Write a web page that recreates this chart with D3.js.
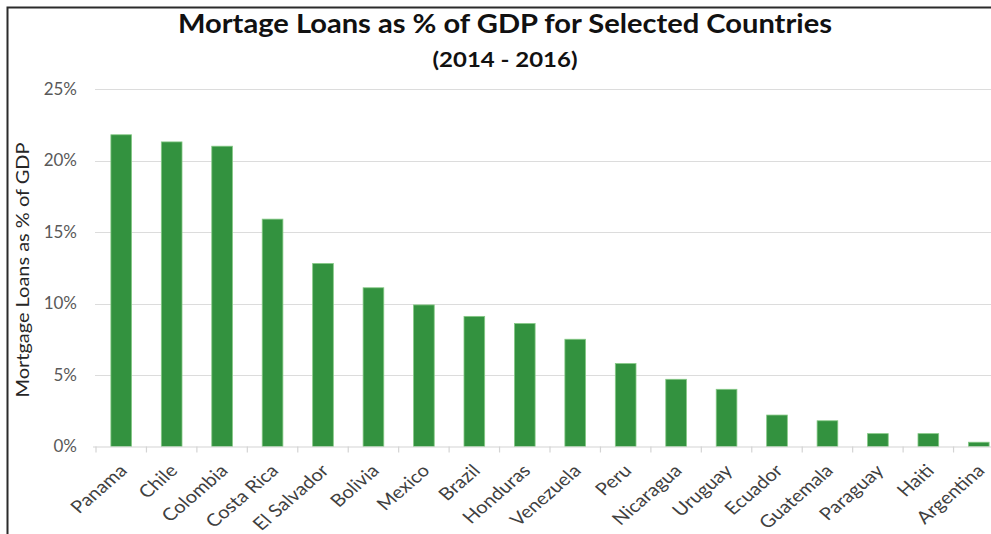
<!DOCTYPE html>
<html>
<head>
<meta charset="utf-8">
<script src="https://cdn.jsdelivr.net/npm/d3@7"></script>
<style>
  html, body { margin: 0; padding: 0; background: #fff; }
  svg { display: block; }
</style>
</head>
<body>
<svg id="chart" width="991" height="534"></svg>
<script>
// Mortgage loans as a share of GDP, 2014 - 2016
const countries = ["Panama", "Chile", "Colombia", "Costa Rica", "El Salvador", "Bolivia",
  "Mexico", "Brazil", "Honduras", "Venezuela", "Peru", "Nicaragua", "Uruguay",
  "Ecuador", "Guatemala", "Paraguay", "Haiti", "Argentina"];
const loansPctGdp = [21.8, 21.3, 21.0, 15.9, 12.8, 11.1, 9.9, 9.1, 8.6, 7.5, 5.8, 4.7, 4.0,
  2.2, 1.8, 0.9, 0.9, 0.3];
const yTicks = [0, 5, 10, 15, 20, 25];

const svg = d3.select("#chart");
const W = 991, H = 534;
const plot = { left: 96, right: 1004, top: 89, bottom: 446.5 };

const x = d3.scaleBand()
  .domain(countries)
  .range([plot.left, plot.right])
  .paddingInner(0.59)
  .paddingOuter(0.295);

const y = d3.scaleLinear()
  .domain([0, 25])
  .range([plot.bottom, plot.top]);

// frame around the chart
svg.append("path")
  .attr("d", `M7.5,${H} L7.5,7.5 L${W},7.5`)
  .attr("fill", "none")
  .attr("stroke", "#2b2b2b")
  .attr("stroke-width", 2);

// horizontal gridlines
svg.append("g")
  .selectAll("line")
  .data(yTicks.filter(d => d > 0))
  .join("line")
  .attr("x1", plot.left - 1)
  .attr("x2", W)
  .attr("y1", d => Math.round(y(d)) + 0.5)
  .attr("y2", d => Math.round(y(d)) + 0.5)
  .attr("stroke", "#dcdcdc")
  .attr("stroke-width", 1.2);

// y axis labels
const yAxis = d3.axisLeft(y)
  .tickValues(yTicks)
  .tickFormat(d => d + "%")
  .tickSize(0)
  .tickPadding(19);
const gy = svg.append("g")
  .attr("transform", `translate(${plot.left},0)`)
  .call(yAxis);
gy.select(".domain").remove();
gy.selectAll("text")
  .attr("fill", "#595959")
  .style("font-family", "Lato, 'Open Sans', sans-serif")
  .style("font-size", "17px");

// bars
svg.append("g")
  .selectAll("rect")
  .data(countries.map((c, i) => ({ c, v: loansPctGdp[i] })))
  .join("rect")
  .attr("x", d => x(d.c))
  .attr("width", x.bandwidth())
  .attr("y", d => y(d.v))
  .attr("height", d => y(0) - y(d.v))
  .attr("fill", "#33923f")
  .attr("stroke", "#86c986")
  .attr("stroke-width", 0.8);

// category axis with ticks at band boundaries
const gx = svg.append("g");
gx.append("line")
  .attr("x1", plot.left - 3)
  .attr("x2", W)
  .attr("y1", plot.bottom + 0.5)
  .attr("y2", plot.bottom + 0.5)
  .attr("stroke", "#d4d4d4")
  .attr("stroke-width", 1.2);
gx.selectAll("line.tick")
  .data(countries)
  .join("line")
  .attr("class", "tick")
  .attr("x1", d => x(d) - x.step() * 0.295)
  .attr("x2", d => x(d) - x.step() * 0.295)
  .attr("y1", plot.bottom)
  .attr("y2", plot.bottom + 6)
  .attr("stroke", "#d4d4d4")
  .attr("stroke-width", 1.2);

gx.selectAll("text")
  .data(countries)
  .join("text")
  .attr("transform", d => `translate(${x(d) + x.bandwidth() / 2 + 2},${plot.bottom + 21}) scale(1.15,1) rotate(-45)`)
  .attr("text-anchor", "end")
  .attr("dy", "0.35em")
  .attr("fill", "#404040")
  .style("font-family", "Lato, 'Open Sans', sans-serif")
  .style("font-size", "17.5px")
  .text(d => d);

// y axis title
svg.append("text")
  .attr("transform", `translate(29,270) rotate(-90)`)
  .attr("text-anchor", "middle")
  .attr("fill", "#262626")
  .attr("textLength", 255)
  .attr("lengthAdjust", "spacingAndGlyphs")
  .style("font-family", "Lato, 'Open Sans', sans-serif")
  .style("font-size", "18px")
  .text("Mortgage Loans as % of GDP");

// titles
svg.append("text")
  .attr("x", 505)
  .attr("y", 33)
  .attr("text-anchor", "middle")
  .attr("fill", "#111")
  .attr("textLength", 654)
  .attr("lengthAdjust", "spacingAndGlyphs")
  .style("font-family", "Lato, 'Open Sans', sans-serif")
  .style("font-weight", "bold")
  .style("font-size", "26px")
  .text("Mortage Loans as % of GDP for Selected Countries");

svg.append("text")
  .attr("x", 505)
  .attr("y", 67)
  .attr("text-anchor", "middle")
  .attr("fill", "#111")
  .attr("textLength", 145)
  .attr("lengthAdjust", "spacingAndGlyphs")
  .style("font-family", "Lato, 'Open Sans', sans-serif")
  .style("font-weight", "bold")
  .style("font-size", "20px")
  .text("(2014 - 2016)");
</script>
</body>
</html>
